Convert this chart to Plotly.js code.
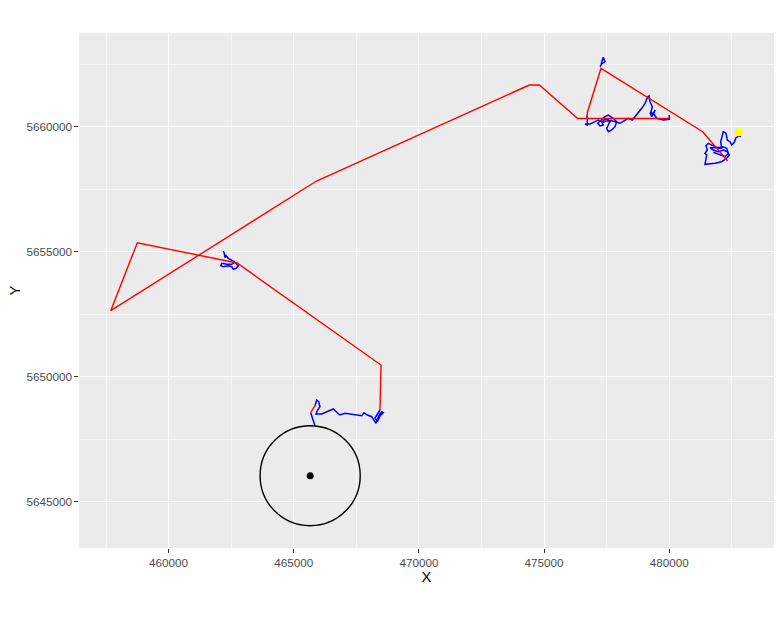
<!DOCTYPE html>
<html>
<head>
<meta charset="utf-8">
<script src="https://cdn.plot.ly/plotly-3.0.1.min.js"></script>
<style>html,body{margin:0;padding:0;background:#fff;}#chart{width:782px;height:617px;}</style>
</head>
<body>
<div id="chart"></div>
<script>
// Red connecting path (null = break)
const redX = [468445, 468485, 462733, 458750, 457687, 465909, 474410, 474810, 476344, 480011, 476727, 476727, 477274, 481337, 482336, null, 465677, 465849];
const redY = [5648668, 5650468, 5654548, 5655360, 5652640, 5657828, 5661668, 5661668, 5660328, 5660328, 5660328, 5660560, 5662336, 5659800, 5658628, null, 5648560, 5648840];

// Blue fine tracks (null = break)
const blueX = [
  465849, 465781, 465677, null,
  465849, 465917, 465997, 466048, 465941, 465889, 466116, 466316, 466580, 466740, 466847, 467047, 467379, 467714, 467806, 467938, 468114, 468206, 468286, 468338, 468418, 468513, 468577, 468445, 468338, 468246, 468445, null,
  462185, 462225, 462253, 462293, 462385, 462521, 462625, 462721, 462785, 462693, 462585, 462521, 462385, 462185, 462081, 462121, 462321, 462521, 462653, null,
  477234, 477302, 477434, 477366, 477326, 477274, null,
  476727, 476727, 476635, 476835, 477035, 477167, 477302, 477366, 477234, 477142, 477434, 477566, 477766, 477902, 477834, 477702, 477566, 477502, 477566, 477634, 477500, 477300, 477420, 477700, 478034, 478234, 478366, 478526, 478633, 478765, 478901, 479033, 479141, 479193, 479233, 479325, 479273, 479365, 479433, 479301, 479233, 479400, 479500, 479764, 480004, 480004, null,
  482855, 482827, 482667, 482600, 482496, 482428, 482320, 482268, 482160, 482108, 482056, 482096, 481960, 481828, 481561, 481469, 481521, 481429, 481497, 481429, 481828, 482096, 482296, 482400, 482320, 482160, 481960, 481760, 481628, 481868, 482136, 482296, 482360, 482228, 482028, 481760
];
const blueY = [
  5648028, 5648268, 5648560, null,
  5648840, 5649068, 5649000, 5648800, 5648640, 5648508, 5648508, 5648600, 5648708, 5648560, 5648468, 5648536, 5648496, 5648440, 5648560, 5648468, 5648400, 5648240, 5648136, 5648296, 5648468, 5648600, 5648560, 5648428, 5648200, 5648348, 5648668, null,
  5655028, 5654936, 5654760, 5654840, 5654736, 5654668, 5654600, 5654496, 5654440, 5654336, 5654296, 5654400, 5654440, 5654400, 5654440, 5654536, 5654496, 5654496, 5654588, null,
  5662400, 5662508, 5662600, 5662776, 5662668, 5662468, null,
  5660468, 5660068, 5660108, 5660108, 5660200, 5660268, 5660200, 5660068, 5660028, 5660136, 5660400, 5660468, 5660336, 5660200, 5660000, 5659868, 5659800, 5659936, 5660068, 5660200, 5660240, 5660160, 5660300, 5660240, 5660136, 5660268, 5660336, 5660268, 5660400, 5660536, 5660736, 5660936, 5661200, 5661228, 5661000, 5660800, 5660600, 5660468, 5660668, 5660400, 5660560, 5660480, 5660336, 5660268, 5660296, 5660468, null,
  5659600, 5659640, 5659560, 5659376, 5659268, 5659400, 5659468, 5659736, 5659800, 5659536, 5659400, 5659136, 5659136, 5659200, 5659336, 5659240, 5659068, 5658936, 5658868, 5658496, 5658536, 5658600, 5658736, 5658868, 5659000, 5659068, 5659000, 5659068, 5659160, 5659160, 5659200, 5659136, 5658936, 5658800, 5658868, 5658976
];

// Yellow point
const yellowX = [482779];
const yellowY = [5659776];

// Centre point and buffer circle
const centreX = [465655];
const centreY = [5646040];
const bufferRadius = 2000;

const xTickVals = [460000, 465000, 470000, 475000, 480000];
const yTickVals = [5645000, 5650000, 5655000, 5660000];

const traces = [
  {x: blueX, y: blueY, type: 'scatter', mode: 'lines', line: {color: '#0000FF', width: 1.5}, connectgaps: false, hoverinfo: 'skip'},
  {x: redX, y: redY, type: 'scatter', mode: 'lines', line: {color: '#FF0000', width: 1.4}, connectgaps: false, hoverinfo: 'skip'},
  {x: centreX, y: centreY, type: 'scatter', mode: 'markers', marker: {color: '#000000', size: 7}},
  {x: yellowX, y: yellowY, type: 'scatter', mode: 'markers', marker: {color: '#FFFF00', size: 8}}
];

const axisCommon = {
  showgrid: true, gridcolor: '#FFFFFF', gridwidth: 1.1,
  zeroline: false, showline: false,
  ticks: 'outside', ticklen: 3.7, tickwidth: 1.1, tickcolor: '#333333',
  tickfont: {family: 'Liberation Sans, Arial, sans-serif', size: 11.7, color: '#4D4D4D'},
  tickmode: 'array',
  minor: {showgrid: true, gridcolor: '#FFFFFF', gridwidth: 0.55, ticks: ''}
};

const layout = {
  width: 782, height: 617,
  margin: {l: 79, r: 8, t: 33, b: 69},
  paper_bgcolor: '#FFFFFF',
  plot_bgcolor: '#EBEBEB',
  showlegend: false,
  xaxis: Object.assign({}, axisCommon, {
    range: [456420, 484186],
    tickvals: xTickVals,
    ticktext: xTickVals.map(String),
    minor: Object.assign({}, axisCommon.minor, {tickvals: [457500, 462500, 467500, 472500, 477500, 482500]}),
    title: {text: 'X', font: {family: 'Liberation Sans, Arial, sans-serif', size: 14.7, color: '#000000'}, standoff: 2}
  }),
  yaxis: Object.assign({}, axisCommon, {
    range: [5643148, 5663748],
    tickvals: yTickVals,
    ticktext: yTickVals.map(String),
    minor: Object.assign({}, axisCommon.minor, {tickvals: [5647500, 5652500, 5657500, 5662500]}),
    title: {text: 'Y', font: {family: 'Liberation Sans, Arial, sans-serif', size: 14.7, color: '#000000'}, standoff: 2}
  }),
  shapes: [{
    type: 'circle', xref: 'x', yref: 'y', layer: 'between',
    x0: centreX[0] - bufferRadius, x1: centreX[0] + bufferRadius,
    y0: centreY[0] - bufferRadius, y1: centreY[0] + bufferRadius,
    line: {color: '#000000', width: 1.4}
  }]
};

Plotly.newPlot('chart', traces, layout, {displayModeBar: false, staticPlot: true});
</script>
</body>
</html>
